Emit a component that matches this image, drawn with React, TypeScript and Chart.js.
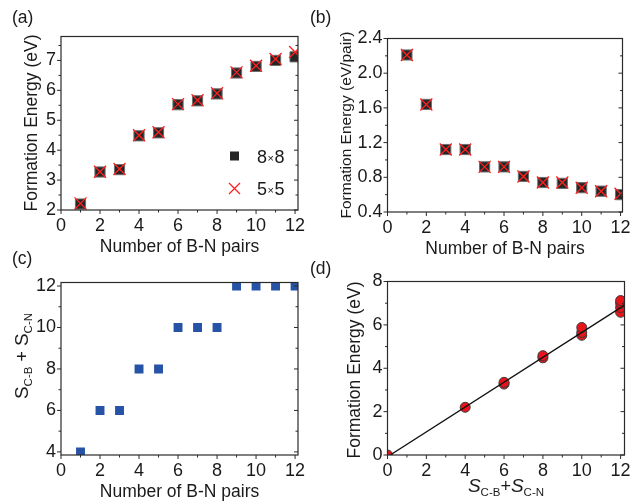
import React, { useEffect, useRef } from "react";
import { Chart, registerables } from "chart.js";

Chart.register(...registerables);

const W = 644;
const H = 504;
const FONT = "'Liberation Sans', Arial, Helvetica, sans-serif";
const INK = "#1a1a1a";

// Number of B-N pairs (x values of panels a, b, c)
const pairs = [1, 2, 3, 4, 5, 6, 7, 8, 9, 10, 11, 12];

// (a) total formation energy, eV
const energy8x8 = [2.2, 3.27, 3.35, 4.48, 4.58, 5.52, 5.65, 5.88, 6.58, 6.8, 7.0, 7.12];
const energy5x5 = [2.22, 3.28, 3.37, 4.5, 4.6, 5.54, 5.67, 5.9, 6.6, 6.82, 7.05, 7.28];

// (b) formation energy per pair, eV/pair
const perPair8x8 = [2.21, 1.64, 1.12, 1.12, 0.92, 0.92, 0.81, 0.74, 0.73, 0.68, 0.64, 0.6];
const perPair5x5 = [2.21, 1.64, 1.12, 1.12, 0.92, 0.92, 0.81, 0.74, 0.74, 0.68, 0.64, 0.61];

// (c) S_C-B + S_C-N for each configuration
const sumS = [4, 6, 6, 8, 8, 10, 10, 10, 12, 12, 12, 12];

// (d) formation energy against S_C-B + S_C-N, with the linear fit
const corrS = [0, 4, 6, 6, 8, 8, 10, 10, 10, 12, 12, 12, 12];
const corrEnergy = [0, 2.2, 3.27, 3.35, 4.48, 4.58, 5.52, 5.65, 5.88, 6.58, 6.8, 7.0, 7.12];
const fitS = [0.14, 12.2];
const fitEnergy = [0, 6.91];

type Area = { l: number; t: number; r: number; b: number };
type AxisSpec = { min: number; max: number; major: number; minor: number; digits: number };
type Seg = { t: string; size: number; italic?: boolean; dy?: number };

const TICK_SIZE = 18;
const TITLE_SIZE = 17.5;

function font(size: number, italic = false) {
  return `${italic ? "italic " : ""}${size}px ${FONT}`;
}

function drawRich(ctx: CanvasRenderingContext2D, segs: Seg[], cx: number, cy: number, vertical: boolean) {
  ctx.save();
  ctx.translate(cx, cy);
  if (vertical) ctx.rotate(-Math.PI / 2);
  let total = 0;
  const widths = segs.map((s) => {
    ctx.font = font(s.size, s.italic);
    const w = ctx.measureText(s.t).width;
    total += w;
    return w;
  });
  let x = -total / 2;
  ctx.textAlign = "left";
  ctx.textBaseline = "alphabetic";
  ctx.fillStyle = INK;
  segs.forEach((s, i) => {
    ctx.font = font(s.size, s.italic);
    ctx.fillText(s.t, x, s.dy || 0);
    x += widths[i];
  });
  ctx.restore();
}

function tickValues(min: number, max: number, step: number) {
  const out: number[] = [];
  const start = Math.ceil(min / step - 1e-6);
  for (let k = start; k * step <= max + 1e-6; k++) out.push(+(k * step).toFixed(6));
  return out;
}

function isMajor(v: number, major: number) {
  return Math.abs(v / major - Math.round(v / major)) < 1e-6;
}

// Box around the plot area with outward ticks on left/bottom and inward ticks on the right
function framePlugin(id: string, xs: AxisSpec, ys: AxisSpec, decorate: (ctx: CanvasRenderingContext2D) => void) {
  return {
    id,
    afterDatasetsDraw(chart: any) {
      const { ctx, chartArea: a } = chart;
      const sx = chart.scales.x;
      const sy = chart.scales.y;
      ctx.save();
      ctx.strokeStyle = "#2a2a2a";
      ctx.lineWidth = 1.2;
      ctx.strokeRect(a.left, a.top, a.right - a.left, a.bottom - a.top);
      ctx.beginPath();
      for (const v of tickValues(xs.min, xs.max, xs.minor)) {
        const len = isMajor(v, xs.major) ? 4 : 2.5;
        const px = sx.getPixelForValue(v);
        ctx.moveTo(px, a.bottom);
        ctx.lineTo(px, a.bottom + len);
      }
      for (const v of tickValues(ys.min, ys.max, ys.minor)) {
        const len = isMajor(v, ys.major) ? 4 : 2.5;
        const py = sy.getPixelForValue(v);
        ctx.moveTo(a.left, py);
        ctx.lineTo(a.left - len, py);
        ctx.moveTo(a.right, py);
        ctx.lineTo(a.right - len, py);
      }
      ctx.lineWidth = 1;
      ctx.stroke();
      ctx.restore();
    },
    afterDraw(chart: any) {
      decorate(chart.ctx);
    },
  };
}

function linearAxis(spec: AxisSpec, horizontal: boolean, area: Area) {
  return {
    type: "linear",
    position: horizontal ? "bottom" : "left",
    min: spec.min,
    max: spec.max,
    afterFit: (s: any) => {
      if (horizontal) s.height = H - area.b;
      else s.width = area.l;
    },
    grid: { display: false, drawTicks: false },
    border: { display: false },
    title: { display: false },
    ticks: {
      stepSize: spec.major,
      includeBounds: false,
      autoSkip: false,
      maxRotation: 0,
      padding: horizontal ? 5 : 5,
      color: INK,
      font: { family: FONT, size: TICK_SIZE },
      callback: (v: number) => Number(v).toFixed(spec.digits),
    },
  };
}

function baseOptions(area: Area, xs: AxisSpec, ys: AxisSpec) {
  return {
    responsive: false,
    animation: false,
    devicePixelRatio: 1,
    events: [],
    layout: { padding: { top: area.t, right: W - area.r, left: 0, bottom: 0 } },
    plugins: { legend: { display: false }, tooltip: { enabled: false } },
    scales: { x: linearAxis(xs, true, area), y: linearAxis(ys, false, area) },
  };
}

function label(ctx: CanvasRenderingContext2D, text: string, x: number, y: number) {
  ctx.save();
  ctx.font = font(17.5);
  ctx.fillStyle = INK;
  ctx.textAlign = "left";
  ctx.textBaseline = "alphabetic";
  ctx.fillText(text, x, y);
  ctx.restore();
}

const pts = (xs: number[], ys: number[]) => xs.map((x, i) => ({ x, y: ys[i] }));

const squareStyle = {
  pointStyle: "rect",
  pointRadius: 7.2,
  pointBackgroundColor: "#262626",
  pointBorderColor: "#6e6e6e",
  pointBorderWidth: 1,
  showLine: false,
};
const crossStyle = {
  pointStyle: "crossRot",
  pointRadius: 8.5,
  pointBorderColor: "#ff1f1f",
  pointBorderWidth: 1.3,
  showLine: false,
};

function configA() {
  const area: Area = { l: 61, t: 36.5, r: 298, b: 210 };
  const xs: AxisSpec = { min: 0, max: 12.15, major: 2, minor: 1, digits: 0 };
  const ys: AxisSpec = { min: 2, max: 7.8, major: 1, minor: 0.5, digits: 0 };
  return {
    type: "scatter",
    data: {
      datasets: [
        { label: "5×5", data: pts(pairs, energy5x5), ...crossStyle },
        { label: "8×8", data: pts(pairs, energy8x8), ...squareStyle },
      ],
    },
    options: baseOptions(area, xs, ys),
    plugins: [
      framePlugin("frameA", xs, ys, (ctx) => {
        label(ctx, "(a)", 12, 23);
        drawRich(ctx, [{ t: "Formation Energy (eV)", size: TITLE_SIZE }], 37, 123, true);
        drawRich(ctx, [{ t: "Number of B-N pairs", size: TITLE_SIZE }], (area.l + area.r) / 2, 252, false);
        // legend
        ctx.save();
        ctx.fillStyle = "#262626";
        ctx.fillRect(230, 151.5, 9, 9);
        ctx.strokeStyle = "#ff1f1f";
        ctx.lineWidth = 1.3;
        ctx.beginPath();
        ctx.moveTo(229, 183);
        ctx.lineTo(240, 194);
        ctx.moveTo(240, 183);
        ctx.lineTo(229, 194);
        ctx.stroke();
        ctx.restore();
        const legendText = (a: string, b: string, y: number) => {
          ctx.save();
          ctx.fillStyle = INK;
          ctx.textBaseline = "alphabetic";
          ctx.font = font(18);
          let x = 257;
          ctx.fillText(a, x, y);
          x += ctx.measureText(a).width;
          ctx.font = font(11);
          ctx.fillText("×", x + 0.5, y - 1);
          x += ctx.measureText("×").width + 1;
          ctx.font = font(18);
          ctx.fillText(b, x, y);
          ctx.restore();
        };
        legendText("8", "8", 162.5);
        legendText("5", "5", 194.5);
      }),
    ],
  };
}

function configB() {
  const area: Area = { l: 387.5, t: 38.5, r: 622.5, b: 212 };
  const xs: AxisSpec = { min: 0, max: 12.1, major: 2, minor: 1, digits: 0 };
  const ys: AxisSpec = { min: 0.4, max: 2.4, major: 0.4, minor: 0.2, digits: 1 };
  return {
    type: "scatter",
    data: {
      datasets: [
        { label: "5×5", data: pts(pairs, perPair5x5), ...crossStyle },
        { label: "8×8", data: pts(pairs, perPair8x8), ...squareStyle },
      ],
    },
    options: baseOptions(area, xs, ys),
    plugins: [
      framePlugin("frameB", xs, ys, (ctx) => {
        label(ctx, "(b)", 310, 23);
        drawRich(ctx, [{ t: "Formation Energy (eV/pair)", size: 15.5 }], 351, 125, true);
        drawRich(ctx, [{ t: "Number of B-N pairs", size: TITLE_SIZE }], (area.l + area.r) / 2, 254, false);
      }),
    ],
  };
}

function configC() {
  const area: Area = { l: 61, t: 282.5, r: 298, b: 455 };
  const xs: AxisSpec = { min: 0, max: 12.15, major: 2, minor: 1, digits: 0 };
  const ys: AxisSpec = { min: 3.85, max: 12.17, major: 2, minor: 1, digits: 0 };
  return {
    type: "scatter",
    data: {
      datasets: [
        {
          label: "S",
          data: pts(pairs, sumS),
          pointStyle: "rect",
          pointRadius: 6.3,
          pointBackgroundColor: "#2753a6",
          pointBorderColor: "#2753a6",
          pointBorderWidth: 0,
          showLine: false,
        },
      ],
    },
    options: baseOptions(area, xs, ys),
    plugins: [
      framePlugin("frameC", xs, ys, (ctx) => {
        label(ctx, "(c)", 12, 264);
        drawRich(
          ctx,
          [
            { t: "S", size: 19 },
            { t: "C-B", size: 11.5, dy: 4 },
            { t: " + ", size: 18 },
            { t: "S", size: 19 },
            { t: "C-N", size: 11.5, dy: 4 },
          ],
          28,
          356,
          true
        );
        drawRich(ctx, [{ t: "Number of B-N pairs", size: TITLE_SIZE }], (area.l + area.r) / 2, 497, false);
      }),
    ],
  };
}

function configD() {
  const area: Area = { l: 387.5, t: 281.5, r: 624.5, b: 455 };
  const xs: AxisSpec = { min: 0, max: 12.2, major: 2, minor: 1, digits: 0 };
  const ys: AxisSpec = { min: 0, max: 8, major: 2, minor: 1, digits: 0 };
  return {
    type: "scatter",
    data: {
      datasets: [
        {
          label: "fit",
          data: pts(fitS, fitEnergy),
          showLine: true,
          pointRadius: 0,
          borderColor: "#111111",
          borderWidth: 1.3,
          fill: false,
        },
        {
          label: "E",
          data: pts(corrS, corrEnergy),
          pointStyle: "circle",
          pointRadius: 5,
          pointBackgroundColor: "#e8141c",
          pointBorderColor: "#3a3a3a",
          pointBorderWidth: 1,
          showLine: false,
          clip: 0,
        },
      ],
    },
    options: baseOptions(area, xs, ys),
    plugins: [
      framePlugin("frameD", xs, ys, (ctx) => {
        label(ctx, "(d)", 310, 274);
        drawRich(ctx, [{ t: "Formation Energy (eV)", size: TITLE_SIZE }], 360, 370, true);
        drawRich(
          ctx,
          [
            { t: "S", size: 19, italic: true },
            { t: "C-B", size: 11.5, dy: 4 },
            { t: "+", size: 18 },
            { t: "S", size: 19, italic: true },
            { t: "C-N", size: 11.5, dy: 4 },
          ],
          (area.l + area.r) / 2,
          492,
          false
        );
      }),
    ],
  };
}

function Panel({ build }: { build: () => any }) {
  const ref = useRef<HTMLCanvasElement | null>(null);
  useEffect(() => {
    if (!ref.current) return;
    const chart = new Chart(ref.current, build());
    return () => chart.destroy();
  }, [build]);
  return (
    <canvas
      ref={ref}
      width={W}
      height={H}
      style={{ position: "absolute", left: 0, top: 0, width: W, height: H }}
    />
  );
}

export default function App() {
  return (
    <div style={{ position: "absolute", left: 0, top: 0, width: W, height: H, background: "#ffffff" }}>
      <Panel build={configA} />
      <Panel build={configB} />
      <Panel build={configC} />
      <Panel build={configD} />
    </div>
  );
}
